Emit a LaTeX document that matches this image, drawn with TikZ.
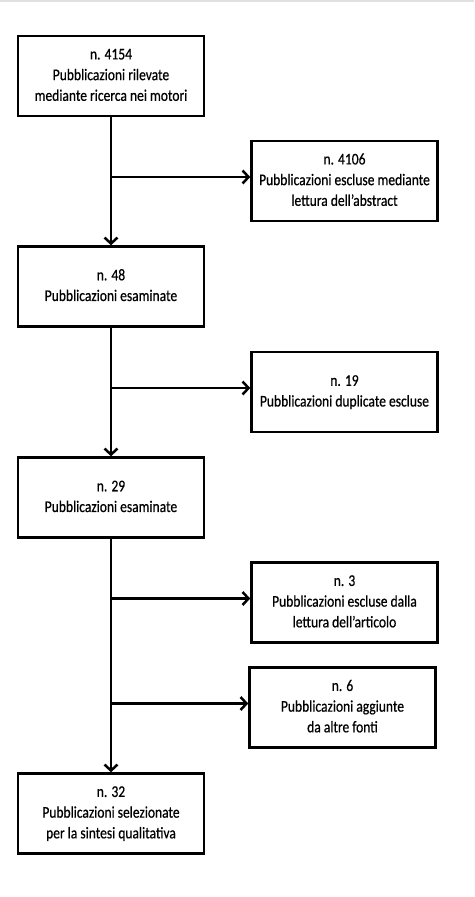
\documentclass[tikz,border=0pt]{standalone}
\usepackage{graphicx}
\usepackage{fontspec}
\setmainfont{Carlito}
\newfontfamily\boxfont{Carlito}[FakeBold=0.6]
\usetikzlibrary{arrows.meta}
\newcommand{\sqz}[1]{\scalebox{0.83}[1]{\begin{tabular}{@{}c@{}}#1\end{tabular}}}
\begin{document}
\begin{tikzpicture}[x=1pt,y=-1pt,
  box/.style={draw=black, line width=2.5pt, minimum width=186pt, minimum height=80pt, inner sep=0pt, align=center, font=\boxfont\fontsize{16.3}{20.7}\selectfont},
  arr/.style={line width=2.5pt, -{Straight Barb[length=6pt,width=13pt]}}]
\useasboundingbox (0,0) rectangle (474,897);
\fill[black!12] (0,0) rectangle (474,2);

\node[box] (b1) at (111,76) {\sqz{n. 4154\\ Pubblicazioni rilevate\\ mediante ricerca nei motori}};
\node[box] (b2) at (344.5,181) {\sqz{n. 4106\\ Pubblicazioni escluse mediante\\ lettura dell’abstract}};
\node[box] (b3) at (111,286.5) {\sqz{n. 48\\ Pubblicazioni esaminate}};
\node[box] (b4) at (344.5,392) {\sqz{n. 19\\ Pubblicazioni duplicate escluse}};
\node[box] (b5) at (111,497.5) {\sqz{n. 29\\ Pubblicazioni esaminate}};
\node[box] (b6) at (344.5,602.5) {\sqz{n. 3\\ Pubblicazioni escluse dalla\\ lettura dell’articolo}};
\node[box] (b7) at (342.5,707.5) {\sqz{n. 6\\ Pubblicazioni aggiunte\\ da altre fonti}};
\node[box] (b8) at (111,813.5) {\sqz{n. 32\\ Pubblicazioni selezionate\\ per la sintesi qualitativa}};

\coordinate (h1) at ([yshift=4pt]b2.west);
\coordinate (h2) at ([yshift=4pt]b4.west);
\coordinate (h3) at ([yshift=4pt]b6.west);
\coordinate (h4) at ([yshift=4pt]b7.west);

\draw[arr] (b1.south) -- (b3.north);
\draw[arr] (b3.south) -- (b5.north);
\draw[arr] (b5.south) -- (b8.north);
\draw[arr] (b1.south |- h1) -- (h1);
\draw[arr] (b3.south |- h2) -- (h2);
\draw[arr] (b5.south |- h3) -- (h3);
\draw[arr] (b5.south |- h4) -- (h4);
\end{tikzpicture}
\end{document}
